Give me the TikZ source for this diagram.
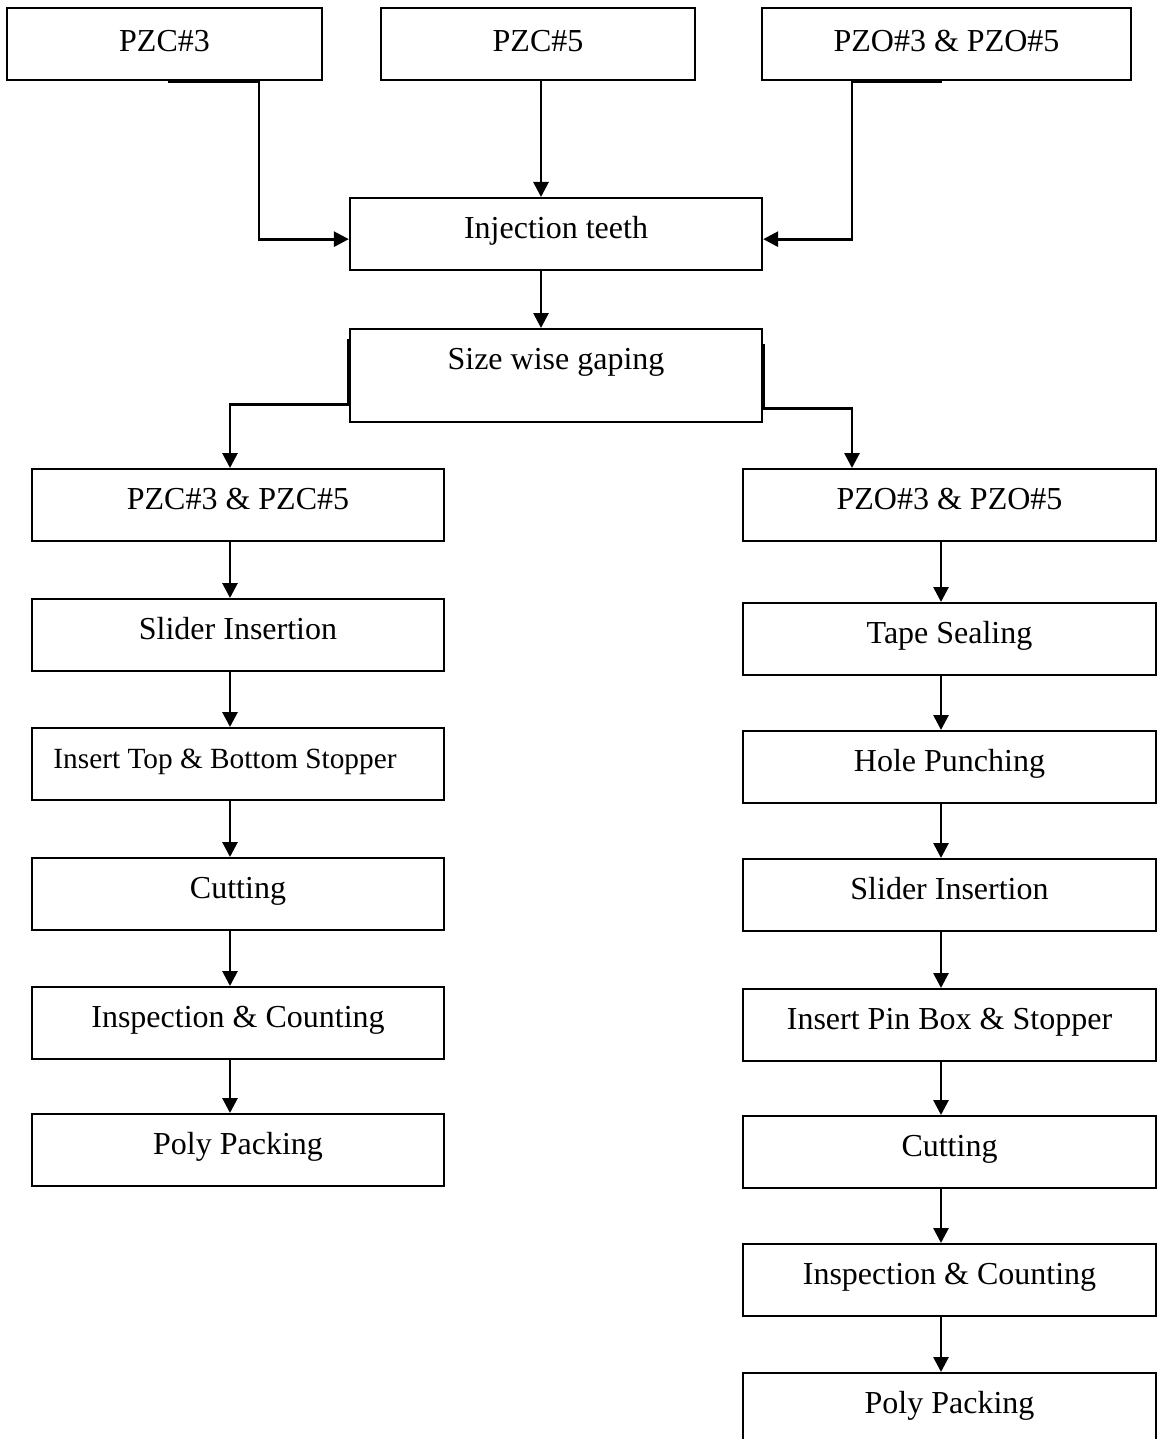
\documentclass[tikz,border=0pt]{standalone}
\usepackage{fontspec}
\setmainfont{Liberation Serif}
\usetikzlibrary{arrows.meta,calc}
\begin{document}
\begin{tikzpicture}[x=1pt,y=-1pt,
  stepbox/.style={draw=black, line width=2.3pt, inner sep=0pt, anchor=north,
    text height=40pt, text depth=32pt, font=\fontsize{32}{38}\selectfont},
  topbox/.style={stepbox, text height=43pt, text depth=29pt},
  colbox/.style={stepbox, minimum width=412pt},
  link/.style={line width=2.8pt, -{Triangle[length=15pt,width=15pt]}},
  plain/.style={line width=2.8pt}]
\useasboundingbox (0,0) rectangle (1157,1439);

% sources
\node[topbox, minimum width=315pt] (pzc3) at (164.5,7) {PZC\#3};
\node[topbox, minimum width=314pt] (pzc5) at (538,7) {PZC\#5};
\node[topbox, minimum width=369pt] (pzo) at (946.5,7) {PZO\#3 \& PZO\#5};

% common stages
\node[colbox] (inj) at (556,197) {Injection teeth};
\node[colbox, text depth=53pt] (size) at (556,328) {Size wise gaping};

% closed-end branch
\node[colbox] (l1) at (238,468) {PZC\#3 \& PZC\#5};
\node[colbox] (l2) at (238,598) {Slider Insertion};
\node[colbox] (l3) at (238,727) {\fontsize{29.3}{35}\selectfont Insert Top \& Bottom Stopper\hspace*{26pt}};
\node[colbox] (l4) at (238,857) {Cutting};
\node[colbox] (l5) at (238,986) {Inspection \& Counting};
\node[colbox] (l6) at (238,1113) {Poly Packing};

% open-end branch
\node[colbox, minimum width=413pt] (r1) at (949.5,468) {PZO\#3 \& PZO\#5};
\node[colbox, minimum width=413pt] (r2) at (949.5,602) {Tape Sealing};
\node[colbox, minimum width=413pt] (r3) at (949.5,730) {Hole Punching};
\node[colbox, minimum width=413pt] (r4) at (949.5,858) {Slider Insertion};
\node[colbox, minimum width=413pt] (r5) at (949.5,988) {Insert Pin Box \& Stopper};
\node[colbox, minimum width=413pt] (r6) at (949.5,1115) {Cutting};
\node[colbox, minimum width=413pt] (r7) at (949.5,1243) {Inspection \& Counting};
\node[colbox, minimum width=413pt] (r8) at (949.5,1372) {Poly Packing};

% sources into injection
\coordinate (a0) at ([xshift=3.5pt]pzc3.south);
\coordinate (a1) at ([xshift=94.5pt]pzc3.south);
\coordinate (ain) at ([yshift=-5pt]inj.west);
\draw[link] (a0) -- (a1) |- (ain);

\coordinate (b1) at ([xshift=3pt]pzc5.south);
\draw[link] (b1) -- (b1 |- inj.north);

\coordinate (c0) at ([xshift=-4.5pt]pzo.south);
\coordinate (c1) at ([xshift=-94.5pt]pzo.south);
\coordinate (cin) at ([yshift=-5pt]inj.east);
\draw[link] (c0) -- (c1) |- (cin);

\coordinate (d1) at ([xshift=-15pt]inj.south);
\draw[link] (d1) -- (d1 |- size.north);

% split into the two branches
\coordinate (e0) at ([yshift=36.5pt]size.west);
\coordinate (e1) at ([yshift=-28.5pt]size.west);
\coordinate (e2) at ([xshift=-8pt]l1.north);
\draw[link] (e0) -- (e1) -| (e2);

\coordinate (f0) at ([yshift=31.5pt]size.east);
\coordinate (f1) at ([yshift=-32.5pt]size.east);
\coordinate (f2) at ([xshift=-97.5pt]r1.north);
\draw[link] (f0) -- (f1) -| (f2);

% chains
\foreach \p/\n in {l1/l2,l2/l3,l3/l4,l4/l5,l5/l6}
  \draw[link] ([xshift=-8pt]\p.south) -- ([xshift=-8pt]\n.north);
\foreach \p/\n in {r1/r2,r2/r3,r3/r4,r4/r5,r5/r6,r6/r7,r7/r8}
  \draw[link] ([xshift=-8.5pt]\p.south) -- ([xshift=-8.5pt]\n.north);
\end{tikzpicture}
\end{document}
